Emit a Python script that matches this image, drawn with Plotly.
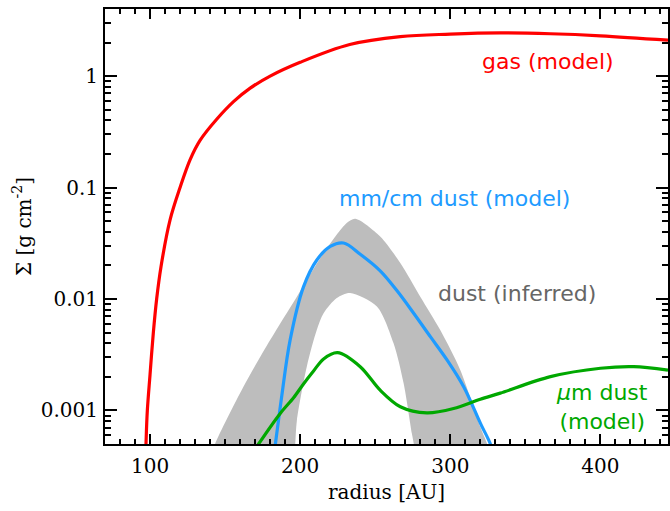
import plotly.graph_objects as go
import numpy as np

# ---- data ----
gas_r = [96.8, 97.3, 98.2, 100, 102.2, 104.4, 107.3, 113.3, 120, 126.7, 133.3, 144.4,
         155.6, 166.7, 180, 200, 233, 266.7, 300, 333.3, 366.7, 400, 445]
gas_sigma = [0.0003, 0.0005, 0.001, 0.0021, 0.005, 0.01, 0.0195, 0.051, 0.10, 0.178, 0.265, 0.41,
             0.59, 0.78, 1.0, 1.33, 1.92, 2.26, 2.38, 2.44, 2.40, 2.30, 2.10]

mm_r = [183.0, 183.5, 187.8, 193.3, 202.2, 211.1, 220, 228.9, 240, 253.3, 264.4, 275.6, 286.7,
        297.8, 308.9, 320, 326.7, 327.5]
mm_sigma = [0.00045, 0.0005, 0.00137, 0.00428, 0.01285, 0.0224, 0.0296, 0.0318, 0.0252, 0.0179, 0.0119,
            0.00745, 0.00459, 0.00284, 0.00163, 0.00077, 0.0005, 0.00045]

band_up_r = [141, 143.3, 162.2, 180, 197.8, 215.6, 231, 236.7, 253.3, 266.7, 280, 293.3, 306.7, 320, 324.5, 326]
band_up = [0.0004, 0.0005, 0.00163, 0.00428, 0.0105, 0.0258, 0.048, 0.0525, 0.0364, 0.021, 0.0105,
           0.00527, 0.0023, 0.00071, 0.0005, 0.0004]
band_lo_r = [196, 196.7, 197.8, 204.4, 211.1, 215.6, 224.4, 233.3, 251.1, 262.2, 268.9, 274.4, 275.7, 276.5]
band_lo = [0.0004, 0.0005, 0.00081, 0.00247, 0.0053, 0.00745, 0.0102, 0.0113, 0.00855, 0.004,
           0.00175, 0.00062, 0.0005, 0.0004]

um_r = [171, 172.3, 186.7, 195.6, 202.2, 208.9, 215.6, 224.9, 240, 253.3, 266.7, 284.4, 302.2, 320,
        333.3, 366.7, 400, 422.2, 445]
um_sigma = [0.00047, 0.0005, 0.00094, 0.0013, 0.00173, 0.00226, 0.0029, 0.0033, 0.00247, 0.00152,
            0.00108, 0.00095, 0.00104, 0.00126, 0.00143, 0.00201, 0.00239, 0.00247, 0.0023]

x_ticks = [100, 200, 300, 400]
y_ticks = [0.001, 0.01, 0.1, 1]
y_ticktext = ["0.001", "0.01", "0.1", "1"]

X_RANGE = [70, 445]
Y_RANGE = [np.log10(0.0005), np.log10(4.0)]
y_minor = [m * 10.0 ** e for e in range(-4, 1) for m in range(2, 10)]

RED = "#ff0000"
BLUE = "#1e9bff"
GREEN = "#00a800"
GRAY = "#bdbdbd"
TXTGRAY = "#666666"

fig = go.Figure()

band_x = list(band_up_r) + list(band_lo_r[::-1])
band_y = list(band_up) + list(band_lo[::-1])
fig.add_trace(go.Scatter(x=band_x, y=band_y, fill="toself", fillcolor=GRAY,
                         line=dict(width=0, color=GRAY, shape="spline", smoothing=0.8),
                         mode="lines", hoverinfo="skip", showlegend=False))

fig.add_trace(go.Scatter(x=gas_r, y=gas_sigma, mode="lines",
                         line=dict(color=RED, width=3.2, shape="spline", smoothing=1.0), showlegend=False))
fig.add_trace(go.Scatter(x=mm_r, y=mm_sigma, mode="lines",
                         line=dict(color=BLUE, width=3.2, shape="spline", smoothing=1.0), showlegend=False))
fig.add_trace(go.Scatter(x=um_r, y=um_sigma, mode="lines",
                         line=dict(color=GREEN, width=3.2, shape="spline", smoothing=0.9), showlegend=False))

# invisible trace to hold the mirrored (top/right) tick axes
fig.add_trace(go.Scatter(x=[None], y=[None], xaxis="x2", yaxis="y2", mode="lines",
                         showlegend=False, hoverinfo="skip"))

afont = "DejaVu Sans"
ann = [
    dict(x=365.3, y=np.log10(1.35), text="gas (model)", color=RED),
    dict(x=302.7, y=-1.094, text="mm/cm dust (model)", color=BLUE),
    dict(x=344.7, y=-1.948, text="dust (inferred)", color=TXTGRAY),
    dict(x=401, y=-2.966, text="<i>μ</i>m dust<br>(model)", color=GREEN),
]
for a in ann:
    fig.add_annotation(x=a["x"], y=a["y"], xref="x", yref="y", text=a["text"], showarrow=False,
                       font=dict(family=afont, size=22, color=a["color"]),
                       xanchor="center", yanchor="middle", align="center")

axfont = dict(family="DejaVu Serif", size=20, color="black")
common = dict(showgrid=False, zeroline=False, showline=True, linecolor="black", linewidth=2,
              ticks="inside", tickwidth=2, tickcolor="black", automargin=False)
xminor = dict(dtick=10, tick0=0, ticks="inside", ticklen=5, tickwidth=2, tickcolor="black")
yminor = dict(tickvals=y_minor, ticks="inside", ticklen=6, tickwidth=2, tickcolor="black")

fig.update_layout(
    width=670, height=511, autosize=False,
    margin=dict(l=105, r=2, t=9, b=67),
    plot_bgcolor="white", paper_bgcolor="white",
    xaxis=dict(range=X_RANGE, ticklen=10, tickvals=x_ticks, tickfont=axfont, ticklabelstandoff=3,
               minor=xminor, title=dict(text="radius [AU]", font=axfont, standoff=8), **common),
    yaxis=dict(type="log", range=Y_RANGE, ticklen=12, tickvals=y_ticks, ticktext=y_ticktext,
               tickfont=axfont, ticklabelstandoff=1, minor=yminor,
               title=dict(text="Σ [g cm<sup>-2</sup>]", font=axfont, standoff=4), **common),
    xaxis2=dict(range=X_RANGE, overlaying="x", side="top", anchor="y2", ticklen=10, tickvals=x_ticks,
                showticklabels=False, minor=xminor, **common),
    yaxis2=dict(type="log", range=Y_RANGE, overlaying="y", side="right", anchor="x2", ticklen=12,
                tickvals=y_ticks, showticklabels=False, minor=yminor, **common),
)

post = ("document.body.style.margin='0';document.body.style.padding='0';"
        "document.documentElement.style.overflow='hidden';document.body.style.overflow='hidden';"
        "var gd=document.getElementById('{plot_id}');"
        "Plotly.relayout(gd,{width:670,height:511});")
fig.write_html("out.html", config={"responsive": False, "displayModeBar": False}, post_script=post)
